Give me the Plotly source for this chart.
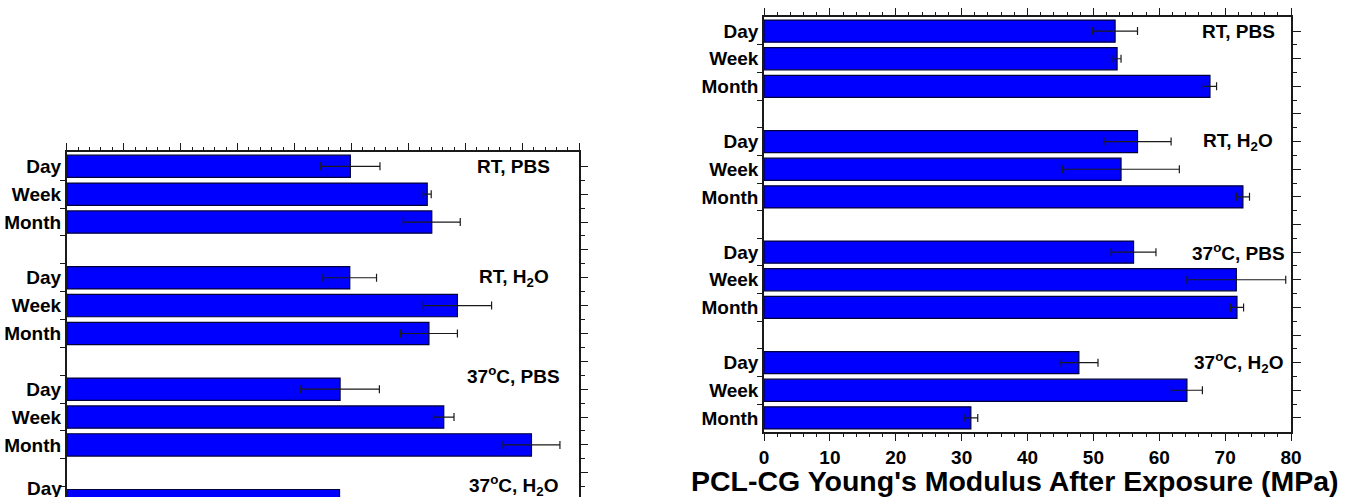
import plotly.graph_objects as go

# Exposure durations within each condition, and the four exposure conditions
times = ["Day", "Week", "Month"]
conditions = ["RT, PBS", "RT, H<sub>2</sub>O",
              "37<sup>o</sup>C, PBS", "37<sup>o</sup>C, H<sub>2</sub>O"]

# PCL-CG Young's modulus after exposure (MPa): mean and standard deviation,
# ordered condition by condition (Day, Week, Month)
modulus_mean = [53.3, 53.6, 67.7, 56.7, 54.2, 72.7, 56.1, 71.7, 71.8, 47.8, 64.2, 31.4]
modulus_sd = [3.4, 0.6, 1.0, 5.1, 8.85, 1.0, 3.4, 7.5, 1.0, 2.9, 2.35, 1.05]

# Companion panel (same layout), lower rows fall below the page
other_mean = [4.98, 6.33, 6.41, 4.97, 6.86, 6.36, 4.80, 6.62, 8.16, 4.79, None, None]
other_sd = [0.52, 0.07, 0.50, 0.47, 0.60, 0.50, 0.69, 0.18, 0.50, None, None, None]

x_title = "PCL-CG Young's Modulus After Exposure (MPa)"

# Row slots: three bars per condition followed by an empty spacer row
slots = [4 * g + t for g in range(len(conditions)) for t in range(len(times))]
labels = [times[t] for g in range(len(conditions)) for t in range(len(times))]
n_slots = 4 * len(conditions) - 1
centers = list(range(n_slots))
bounds = [k + 0.5 for k in range(n_slots - 1)]

FONT = "Liberation Sans, Arial, sans-serif"
BAR = "#0000ff"
EDGE = "#00003a"
INK = "#1a1a1a"

W, H = 1350, 497
left_px = (66.7, 579.3, 152.4)          # x0, x1, top of the left panel
right_px = (764.0, 1291.0, 17.3, 431.7)  # x0, x1, top, bottom of the right panel

left_range = [11.87, -0.5]
right_range = [n_slots - 0.5, -0.5]
left_dom_y = [0, (H - left_px[2]) / H]

fig = go.Figure()


def add_panel(xa, ya, means, sds):
    fig.add_trace(go.Bar(
        x=means, y=slots, orientation="h", width=0.8,
        marker=dict(color=BAR, line=dict(color=EDGE, width=1.2)),
        error_x=dict(type="data", array=sds, visible=True,
                     color=INK, thickness=1.2, width=4),
        xaxis=xa, yaxis=ya, showlegend=False, hoverinfo="skip",
    ))


add_panel("x", "y", other_mean, other_sd)
add_panel("x2", "y2", modulus_mean, modulus_sd)

# Empty traces so the mirrored frame axes (right / top ticks) get drawn
for xa, ya in (("x", "y3"), ("x3", "y4")):
    fig.add_trace(go.Scatter(x=[], y=[], xaxis=xa, yaxis=ya, showlegend=False,
                             hoverinfo="skip"))

tickfont = dict(family=FONT, size=19, color="#000000", weight="bold")
frame = dict(showgrid=False, zeroline=False, showline=True, linecolor=INK,
             linewidth=1.5, automargin=False)


def minor_y(length):
    return dict(tickmode="array", tickvals=bounds, ticks="outside",
                ticklen=length, tickwidth=1.3, tickcolor=INK)


# Left panel (cut off by the page bottom)
fig.update_layout(
    xaxis=dict(domain=[left_px[0] / W, left_px[1] / W], anchor="y", side="top",
               range=[0, 9], dtick=1, showticklabels=False,
               ticks="outside", ticklen=8, tickwidth=1.3, tickcolor=INK,
               minor=dict(dtick=0.2, ticks="outside", ticklen=4,
                          tickwidth=1.1, tickcolor=INK), **frame),
    yaxis=dict(domain=left_dom_y, anchor="x", range=left_range,
               tickmode="array", tickvals=slots, ticktext=labels, ticks="",
               tickfont=tickfont, minor=minor_y(5), **frame),
    yaxis3=dict(overlaying="y", anchor="x", side="right", range=left_range,
                tickmode="array", tickvals=centers, showticklabels=False,
                ticks="outside", ticklen=7, tickwidth=1.3, tickcolor=INK,
                minor=minor_y(4), **frame),
)

# Right panel: Young's modulus
fig.update_layout(
    xaxis2=dict(domain=[right_px[0] / W, right_px[1] / W], anchor="y2",
                range=[0, 80], dtick=10,
                tickfont=dict(family=FONT, size=19, color="#000000", weight="bold"),
                ticks="outside", ticklen=8, tickwidth=1.3, tickcolor=INK,
                minor=dict(dtick=2, ticks="outside", ticklen=4,
                           tickwidth=1.1, tickcolor=INK), **frame),
    xaxis3=dict(overlaying="x2", anchor="y2", side="top", range=[0, 80],
                dtick=10, showticklabels=False,
                ticks="outside", ticklen=8, tickwidth=1.3, tickcolor=INK,
                minor=dict(dtick=2, ticks="outside", ticklen=4,
                           tickwidth=1.1, tickcolor=INK), **frame),
    yaxis2=dict(domain=[(H - right_px[3]) / H, (H - right_px[2]) / H],
                anchor="x2", range=right_range, tickmode="array",
                tickvals=slots, ticktext=labels, ticks="", tickfont=tickfont,
                minor=minor_y(5), **frame),
    yaxis4=dict(overlaying="y2", anchor="x2", side="right", range=right_range,
                tickmode="array", tickvals=centers, showticklabels=False,
                ticks="outside", ticklen=8, tickwidth=1.3, tickcolor=INK,
                minor=minor_y(4), **frame),
)

# Axis caption under the right panel
fig.add_annotation(x=1015 / W, y=(H - 481) / H, xref="paper", yref="paper",
                   text=x_title, showarrow=False, xanchor="center",
                   yanchor="middle",
                   font=dict(family=FONT, size=28.5, color="#000000",
                             weight="bold"))

# Condition labels beside each group
ann_font = dict(family=FONT, size=19, color="#000000", weight="bold")


def left_paper_y(slot):
    # position of a row on the left panel in paper units (may fall below 0)
    frac = (left_range[0] - slot) / (left_range[0] - left_range[1])
    return left_dom_y[0] + frac * (left_dom_y[1] - left_dom_y[0])


for g, name in enumerate(conditions):
    fig.add_annotation(x=7.85, y=left_paper_y(4 * g), xref="x", yref="paper",
                       text=name, showarrow=False, font=ann_font)
    fig.add_annotation(x=72, y=4 * g, xref="x2", yref="y2", text=name,
                       showarrow=False, font=ann_font)

# Row label of the left panel's last visible bar, which sits below the page edge
for s, lab in zip(slots, labels):
    if s > left_range[0]:
        fig.add_annotation(x=left_px[0] / W - 3 / W, y=left_paper_y(s),
                           xref="paper", yref="paper", xanchor="right",
                           text=lab, showarrow=False, font=tickfont)
        break

fig.update_layout(
    width=W, height=H, margin=dict(l=0, r=0, t=0, b=0),
    paper_bgcolor="white", plot_bgcolor="white",
    font=dict(family=FONT, color="#000000"),
)

fig.write_html("out.html")
